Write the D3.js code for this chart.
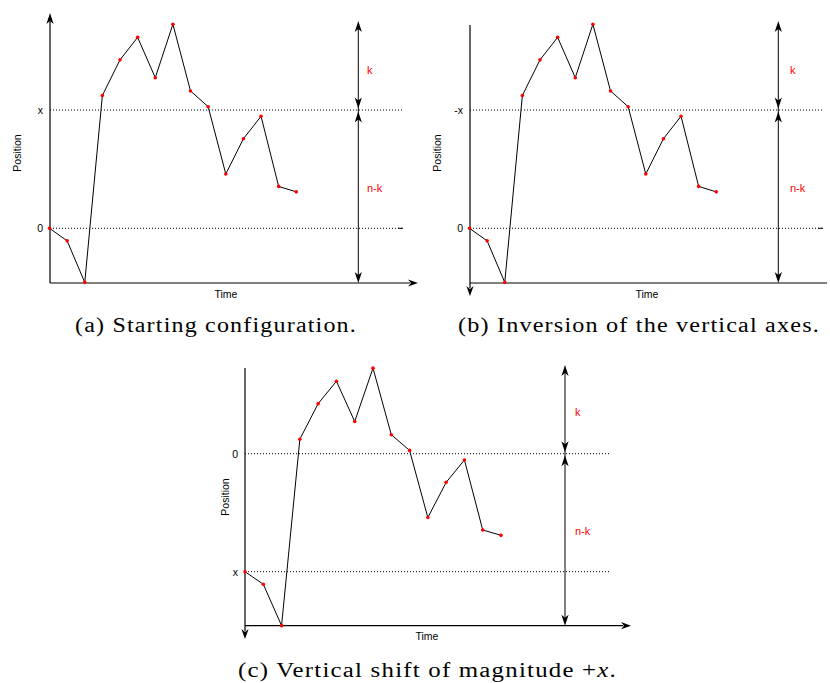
<!DOCTYPE html>
<html>
<head>
<meta charset="utf-8">
<script src="https://cdn.jsdelivr.net/npm/d3@7"></script>
<style>
  body { margin: 0; background: #fff; }
  svg { display: block; }
  .cap { font-family: "Liberation Serif", "Times New Roman", Times, serif; letter-spacing: 1px; }
</style>
</head>
<body>
<svg id="fig" width="830" height="683"></svg>
<script>
// ---- data -------------------------------------------------------------
// time steps of the walk
const steps = [0, 1, 2, 3, 4, 5, 6, 7, 8, 9, 10, 11, 12, 13, 14];
// position at each step, in units of the level x (x = 1)
const positions = [0, -0.106, -0.457, 1.123, 1.424, 1.614, 1.273, 1.725,
                   1.161, 1.028, 0.459, 0.757, 0.947, 0.354, 0.308];
// the two reference levels drawn as dotted lines
const levels = [0, 1];
const levelLabelsA = ["0", "x"];
const levelLabelsB = ["0", "-x"];
const levelLabelsC = ["x", "0"];
// labels of the two vertical spans on the right
const spanLabels = ["k", "n-k"];
const captionA = "(a) Starting configuration.";
const captionB = "(b) Inversion of the vertical axes.";
const captionC = ["(c) Vertical shift of magnitude +", "x", "."];

// ---- layout of the three panels ---------------------------------------
const panels = [
  { labels: levelLabelsA, left: 50, bottom: 283, axisTop: 13, yArrow: "up",
    t0: 49.5, t1: 296.3, yZero: 228.3, yOne: 110,
    xEnd: 418, xArrow: true, gridEnd: 403, endDash: true,
    spanX: 358.3, spanTop: 21, spanLabelX: 367, kY: 70, nkY: 188,
    posLabel: [17, 153], timeLabel: [226, 298] },
  { labels: levelLabelsB, left: 470, bottom: 283, axisTop: 25, yArrow: "down", axisBottom: 296,
    t0: 469.5, t1: 716.3, yZero: 228.3, yOne: 110,
    xEnd: 827, xArrow: false, gridEnd: 823, endDash: true,
    spanX: 778.3, spanTop: 21, spanLabelX: 790, kY: 70, nkY: 188,
    posLabel: [437, 153], timeLabel: [647, 298] },
  { labels: levelLabelsC, left: 245, bottom: 625.7, axisTop: 368, yArrow: "down", axisBottom: 639,
    t0: 245, t1: 501, yZero: 571.7, yOne: 453.7,
    xEnd: 631, xArrow: true, gridEnd: 610, endDash: false,
    spanX: 565, spanTop: 365, spanLabelX: 575, kY: 412, nkY: 531,
    posLabel: [225, 497], timeLabel: [427, 640] }
];

const svg = d3.select("#fig");
const sans = "'Liberation Sans', Arial, Helvetica, sans-serif";

// concave "stealth" arrow head with its tip at (x, y), pointing along (dx, dy)
function arrowHead(x, y, dx, dy, len = 11, half = 3.6, notch = 3) {
  const px = -dy, py = dx;
  const bx = x - dx * len, by = y - dy * len;
  const nx = x - dx * (len - notch), ny = y - dy * (len - notch);
  return `M${x},${y}L${bx + px * half},${by + py * half}L${nx},${ny}` +
         `L${bx - px * half},${by - py * half}Z`;
}

panels.forEach(p => {
  const g = svg.append("g");
  const x = d3.scaleLinear().domain([steps[0], steps[steps.length - 1]]).range([p.t0, p.t1]);
  const y = d3.scaleLinear().domain([0, 1]).range([p.yZero, p.yOne]);

  // dotted reference levels
  g.selectAll("line.level").data(levels).join("line")
    .attr("class", "level")
    .attr("x1", p.left).attr("x2", p.gridEnd)
    .attr("y1", d => y(d)).attr("y2", d => y(d))
    .attr("stroke", "#000").attr("stroke-width", 1)
    .attr("stroke-dasharray", "1,2");
  if (p.endDash) {
    g.append("line")
      .attr("x1", p.gridEnd - 5).attr("x2", p.gridEnd)
      .attr("y1", y(0)).attr("y2", y(0))
      .attr("stroke", "#000").attr("stroke-width", 1);
  }

  // level labels through a left axis without ticks or domain
  const ax = g.append("g")
    .attr("transform", `translate(${p.left},0)`)
    .call(d3.axisLeft(y).tickValues(levels)
      .tickFormat((d, i) => p.labels[i]).tickSize(0).tickPadding(7));
  ax.select(".domain").remove();
  ax.selectAll("text").attr("font-family", sans).attr("font-size", 10.5).attr("fill", "#000");

  // axes
  const axisBottom = p.axisBottom || p.bottom;
  const yLineTop = p.yArrow === "up" ? p.axisTop + 8 : p.axisTop;
  const yLineBot = p.yArrow === "down" ? axisBottom - 8 : axisBottom;
  g.append("line")
    .attr("x1", p.left).attr("x2", p.left)
    .attr("y1", yLineTop).attr("y2", yLineBot)
    .attr("stroke", "#000").attr("stroke-width", 1.2);
  if (p.yArrow === "up") {
    g.append("path").attr("d", arrowHead(p.left, p.axisTop, 0, -1)).attr("fill", "#000");
  } else {
    g.append("path").attr("d", arrowHead(p.left, axisBottom, 0, 1, 10)).attr("fill", "#000");
  }
  g.append("line")
    .attr("x1", p.left).attr("x2", p.xArrow ? p.xEnd - 8 : p.xEnd)
    .attr("y1", p.bottom).attr("y2", p.bottom)
    .attr("stroke", "#000").attr("stroke-width", 1.2);
  if (p.xArrow) {
    g.append("path").attr("d", arrowHead(p.xEnd, p.bottom, 1, 0, 10)).attr("fill", "#000");
  }

  // vertical spans k and n-k
  const mid = y(1);
  g.append("line")
    .attr("x1", p.spanX).attr("x2", p.spanX)
    .attr("y1", p.spanTop + 6).attr("y2", p.bottom - 6)
    .attr("stroke", "#000").attr("stroke-width", 1);
  [[p.spanTop, -1], [mid - 1.5, 1], [mid + 1.5, -1], [p.bottom, 1]].forEach(([ty, dir]) => {
    g.append("path").attr("d", arrowHead(p.spanX, ty, 0, dir)).attr("fill", "#000");
  });
  g.selectAll("text.span").data(spanLabels).join("text")
    .attr("class", "span")
    .attr("x", p.spanLabelX)
    .attr("y", (d, i) => i === 0 ? p.kY : p.nkY)
    .attr("dy", "0.35em")
    .attr("font-family", sans).attr("font-size", 11)
    .attr("fill", "#f00")
    .text(d => d);

  // the walk
  const pts = steps.map((s, i) => [s, positions[i]]);
  g.append("path")
    .attr("d", d3.line().x(d => x(d[0])).y(d => y(d[1]))(pts))
    .attr("fill", "none").attr("stroke", "#000").attr("stroke-width", 1);
  g.selectAll("circle").data(pts).join("circle")
    .attr("cx", d => x(d[0])).attr("cy", d => y(d[1]))
    .attr("r", 1.8).attr("fill", "#f00");

  // axis titles
  g.append("text")
    .attr("transform", `translate(${p.posLabel[0]},${p.posLabel[1]}) rotate(-90)`)
    .attr("text-anchor", "middle").attr("dy", "0.35em")
    .attr("font-family", sans).attr("font-size", 10.5)
    .text("Position");
  g.append("text")
    .attr("x", p.timeLabel[0]).attr("y", p.timeLabel[1])
    .attr("text-anchor", "middle")
    .attr("font-family", sans).attr("font-size", 10.5)
    .text("Time");
});

// sub-figure captions
function caption(x, y, width, parts) {
  const t = svg.append("text")
    .attr("class", "cap")
    .attr("x", x).attr("y", y)
    .attr("font-size", 20.5)
    .attr("fill", "#000")
    .attr("textLength", width).attr("lengthAdjust", "spacingAndGlyphs");
  parts.forEach((s, i) => {
    t.append("tspan").attr("font-style", parts.length > 1 && i === 1 ? "italic" : null).text(s);
  });
}
caption(75, 332, 282, [captionA]);
caption(458, 332, 362, [captionB]);
caption(238, 677, 379, captionC);
</script>
</body>
</html>
